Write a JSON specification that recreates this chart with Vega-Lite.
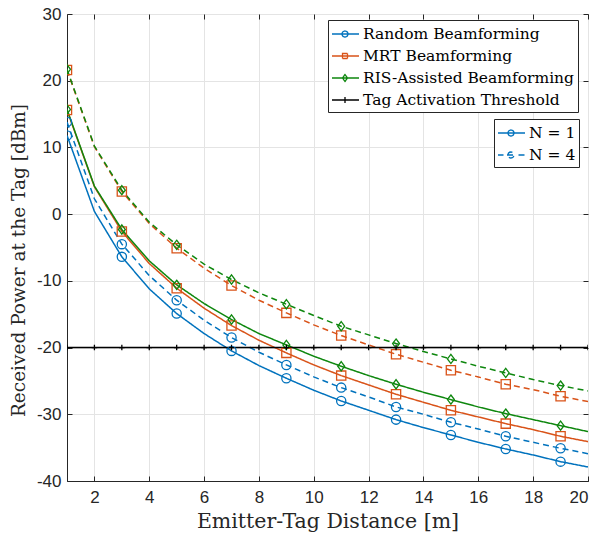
{
  "$schema": "https://vega.github.io/schema/vega-lite/v6.json",
  "width": 521,
  "height": 467,
  "autosize": {"type": "none"},
  "padding": {"left": 67, "top": 14, "right": 9, "bottom": 54},
  "background": "white",
  "config": {
    "view": {"stroke": "#262626", "strokeWidth": 1},
    "axis": {
      "labelFont": "Liberation Sans",
      "labelFontSize": 17,
      "labelColor": "#262626",
      "titleFont": "DejaVu Serif",
      "titleFontSize": 20,
      "titleFontWeight": "normal",
      "titleColor": "#262626",
      "domainColor": "#262626",
      "tickColor": "#262626",
      "gridColor": "#e4e4e4",
      "gridWidth": 1
    },
    "legend": {
      "labelFont": "DejaVu Serif",
      "labelFontSize": 15.5,
      "labelColor": "#000000",
      "labelLimit": 0,
      "strokeColor": "#262626",
      "fillColor": "white",
      "padding": 3,
      "symbolSize": 400,
      "labelOffset": 10,
      "rowPadding": 2,
      "cornerRadius": 0
    }
  },
  "data": {
    "values": [
      {"d": 1, "method": "Random Beamforming", "N": "1", "P": 11.8},
      {"d": 2, "method": "Random Beamforming", "N": "1", "P": 0.4},
      {"d": 3, "method": "Random Beamforming", "N": "1", "P": -6.4},
      {"d": 4, "method": "Random Beamforming", "N": "1", "P": -11.2},
      {"d": 5, "method": "Random Beamforming", "N": "1", "P": -14.9},
      {"d": 6, "method": "Random Beamforming", "N": "1", "P": -17.9},
      {"d": 7, "method": "Random Beamforming", "N": "1", "P": -20.5},
      {"d": 8, "method": "Random Beamforming", "N": "1", "P": -22.7},
      {"d": 9, "method": "Random Beamforming", "N": "1", "P": -24.6},
      {"d": 10, "method": "Random Beamforming", "N": "1", "P": -26.4},
      {"d": 11, "method": "Random Beamforming", "N": "1", "P": -28.0},
      {"d": 12, "method": "Random Beamforming", "N": "1", "P": -29.4},
      {"d": 13, "method": "Random Beamforming", "N": "1", "P": -30.8},
      {"d": 14, "method": "Random Beamforming", "N": "1", "P": -32.0},
      {"d": 15, "method": "Random Beamforming", "N": "1", "P": -33.1},
      {"d": 16, "method": "Random Beamforming", "N": "1", "P": -34.2},
      {"d": 17, "method": "Random Beamforming", "N": "1", "P": -35.2},
      {"d": 18, "method": "Random Beamforming", "N": "1", "P": -36.1},
      {"d": 19, "method": "Random Beamforming", "N": "1", "P": -37.1},
      {"d": 20, "method": "Random Beamforming", "N": "1", "P": -37.9},
      {"d": 1, "method": "Random Beamforming", "N": "4", "P": 13.8},
      {"d": 2, "method": "Random Beamforming", "N": "4", "P": 2.3},
      {"d": 3, "method": "Random Beamforming", "N": "4", "P": -4.5},
      {"d": 4, "method": "Random Beamforming", "N": "4", "P": -9.2},
      {"d": 5, "method": "Random Beamforming", "N": "4", "P": -12.9},
      {"d": 6, "method": "Random Beamforming", "N": "4", "P": -15.9},
      {"d": 7, "method": "Random Beamforming", "N": "4", "P": -18.5},
      {"d": 8, "method": "Random Beamforming", "N": "4", "P": -20.7},
      {"d": 9, "method": "Random Beamforming", "N": "4", "P": -22.6},
      {"d": 10, "method": "Random Beamforming", "N": "4", "P": -24.4},
      {"d": 11, "method": "Random Beamforming", "N": "4", "P": -26.0},
      {"d": 12, "method": "Random Beamforming", "N": "4", "P": -27.4},
      {"d": 13, "method": "Random Beamforming", "N": "4", "P": -28.9},
      {"d": 14, "method": "Random Beamforming", "N": "4", "P": -30.0},
      {"d": 15, "method": "Random Beamforming", "N": "4", "P": -31.2},
      {"d": 16, "method": "Random Beamforming", "N": "4", "P": -32.2},
      {"d": 17, "method": "Random Beamforming", "N": "4", "P": -33.3},
      {"d": 18, "method": "Random Beamforming", "N": "4", "P": -34.2},
      {"d": 19, "method": "Random Beamforming", "N": "4", "P": -35.1},
      {"d": 20, "method": "Random Beamforming", "N": "4", "P": -35.9},
      {"d": 1, "method": "MRT Beamforming", "N": "1", "P": 15.6},
      {"d": 2, "method": "MRT Beamforming", "N": "1", "P": 4.1},
      {"d": 3, "method": "MRT Beamforming", "N": "1", "P": -2.6},
      {"d": 4, "method": "MRT Beamforming", "N": "1", "P": -7.4},
      {"d": 5, "method": "MRT Beamforming", "N": "1", "P": -11.1},
      {"d": 6, "method": "MRT Beamforming", "N": "1", "P": -14.1},
      {"d": 7, "method": "MRT Beamforming", "N": "1", "P": -16.7},
      {"d": 8, "method": "MRT Beamforming", "N": "1", "P": -18.9},
      {"d": 9, "method": "MRT Beamforming", "N": "1", "P": -20.8},
      {"d": 10, "method": "MRT Beamforming", "N": "1", "P": -22.6},
      {"d": 11, "method": "MRT Beamforming", "N": "1", "P": -24.2},
      {"d": 12, "method": "MRT Beamforming", "N": "1", "P": -25.6},
      {"d": 13, "method": "MRT Beamforming", "N": "1", "P": -27.0},
      {"d": 14, "method": "MRT Beamforming", "N": "1", "P": -28.2},
      {"d": 15, "method": "MRT Beamforming", "N": "1", "P": -29.4},
      {"d": 16, "method": "MRT Beamforming", "N": "1", "P": -30.4},
      {"d": 17, "method": "MRT Beamforming", "N": "1", "P": -31.4},
      {"d": 18, "method": "MRT Beamforming", "N": "1", "P": -32.3},
      {"d": 19, "method": "MRT Beamforming", "N": "1", "P": -33.3},
      {"d": 20, "method": "MRT Beamforming", "N": "1", "P": -34.1},
      {"d": 1, "method": "MRT Beamforming", "N": "4", "P": 21.6},
      {"d": 2, "method": "MRT Beamforming", "N": "4", "P": 10.1},
      {"d": 3, "method": "MRT Beamforming", "N": "4", "P": 3.4},
      {"d": 4, "method": "MRT Beamforming", "N": "4", "P": -1.4},
      {"d": 5, "method": "MRT Beamforming", "N": "4", "P": -5.1},
      {"d": 6, "method": "MRT Beamforming", "N": "4", "P": -8.1},
      {"d": 7, "method": "MRT Beamforming", "N": "4", "P": -10.7},
      {"d": 8, "method": "MRT Beamforming", "N": "4", "P": -12.9},
      {"d": 9, "method": "MRT Beamforming", "N": "4", "P": -14.8},
      {"d": 10, "method": "MRT Beamforming", "N": "4", "P": -16.6},
      {"d": 11, "method": "MRT Beamforming", "N": "4", "P": -18.2},
      {"d": 12, "method": "MRT Beamforming", "N": "4", "P": -19.6},
      {"d": 13, "method": "MRT Beamforming", "N": "4", "P": -21.0},
      {"d": 14, "method": "MRT Beamforming", "N": "4", "P": -22.2},
      {"d": 15, "method": "MRT Beamforming", "N": "4", "P": -23.4},
      {"d": 16, "method": "MRT Beamforming", "N": "4", "P": -24.4},
      {"d": 17, "method": "MRT Beamforming", "N": "4", "P": -25.5},
      {"d": 18, "method": "MRT Beamforming", "N": "4", "P": -26.3},
      {"d": 19, "method": "MRT Beamforming", "N": "4", "P": -27.3},
      {"d": 20, "method": "MRT Beamforming", "N": "4", "P": -28.1},
      {"d": 1, "method": "RIS-Assisted Beamforming", "N": "1", "P": 15.7},
      {"d": 2, "method": "RIS-Assisted Beamforming", "N": "1", "P": 4.2},
      {"d": 3, "method": "RIS-Assisted Beamforming", "N": "1", "P": -2.3},
      {"d": 4, "method": "RIS-Assisted Beamforming", "N": "1", "P": -7.0},
      {"d": 5, "method": "RIS-Assisted Beamforming", "N": "1", "P": -10.6},
      {"d": 6, "method": "RIS-Assisted Beamforming", "N": "1", "P": -13.4},
      {"d": 7, "method": "RIS-Assisted Beamforming", "N": "1", "P": -15.8},
      {"d": 8, "method": "RIS-Assisted Beamforming", "N": "1", "P": -17.9},
      {"d": 9, "method": "RIS-Assisted Beamforming", "N": "1", "P": -19.6},
      {"d": 10, "method": "RIS-Assisted Beamforming", "N": "1", "P": -21.3},
      {"d": 11, "method": "RIS-Assisted Beamforming", "N": "1", "P": -22.8},
      {"d": 12, "method": "RIS-Assisted Beamforming", "N": "1", "P": -24.2},
      {"d": 13, "method": "RIS-Assisted Beamforming", "N": "1", "P": -25.5},
      {"d": 14, "method": "RIS-Assisted Beamforming", "N": "1", "P": -26.7},
      {"d": 15, "method": "RIS-Assisted Beamforming", "N": "1", "P": -27.8},
      {"d": 16, "method": "RIS-Assisted Beamforming", "N": "1", "P": -28.9},
      {"d": 17, "method": "RIS-Assisted Beamforming", "N": "1", "P": -29.9},
      {"d": 18, "method": "RIS-Assisted Beamforming", "N": "1", "P": -30.8},
      {"d": 19, "method": "RIS-Assisted Beamforming", "N": "1", "P": -31.7},
      {"d": 20, "method": "RIS-Assisted Beamforming", "N": "1", "P": -32.6},
      {"d": 1, "method": "RIS-Assisted Beamforming", "N": "4", "P": 21.7},
      {"d": 2, "method": "RIS-Assisted Beamforming", "N": "4", "P": 10.2},
      {"d": 3, "method": "RIS-Assisted Beamforming", "N": "4", "P": 3.6},
      {"d": 4, "method": "RIS-Assisted Beamforming", "N": "4", "P": -1.2},
      {"d": 5, "method": "RIS-Assisted Beamforming", "N": "4", "P": -4.6},
      {"d": 6, "method": "RIS-Assisted Beamforming", "N": "4", "P": -7.5},
      {"d": 7, "method": "RIS-Assisted Beamforming", "N": "4", "P": -9.8},
      {"d": 8, "method": "RIS-Assisted Beamforming", "N": "4", "P": -11.8},
      {"d": 9, "method": "RIS-Assisted Beamforming", "N": "4", "P": -13.5},
      {"d": 10, "method": "RIS-Assisted Beamforming", "N": "4", "P": -15.2},
      {"d": 11, "method": "RIS-Assisted Beamforming", "N": "4", "P": -16.8},
      {"d": 12, "method": "RIS-Assisted Beamforming", "N": "4", "P": -18.1},
      {"d": 13, "method": "RIS-Assisted Beamforming", "N": "4", "P": -19.4},
      {"d": 14, "method": "RIS-Assisted Beamforming", "N": "4", "P": -20.6},
      {"d": 15, "method": "RIS-Assisted Beamforming", "N": "4", "P": -21.7},
      {"d": 16, "method": "RIS-Assisted Beamforming", "N": "4", "P": -22.8},
      {"d": 17, "method": "RIS-Assisted Beamforming", "N": "4", "P": -23.8},
      {"d": 18, "method": "RIS-Assisted Beamforming", "N": "4", "P": -24.8},
      {"d": 19, "method": "RIS-Assisted Beamforming", "N": "4", "P": -25.7},
      {"d": 20, "method": "RIS-Assisted Beamforming", "N": "4", "P": -26.5},
      {"d": 1, "method": "Tag Activation Threshold", "N": "1", "P": -20},
      {"d": 2, "method": "Tag Activation Threshold", "N": "1", "P": -20},
      {"d": 3, "method": "Tag Activation Threshold", "N": "1", "P": -20},
      {"d": 4, "method": "Tag Activation Threshold", "N": "1", "P": -20},
      {"d": 5, "method": "Tag Activation Threshold", "N": "1", "P": -20},
      {"d": 6, "method": "Tag Activation Threshold", "N": "1", "P": -20},
      {"d": 7, "method": "Tag Activation Threshold", "N": "1", "P": -20},
      {"d": 8, "method": "Tag Activation Threshold", "N": "1", "P": -20},
      {"d": 9, "method": "Tag Activation Threshold", "N": "1", "P": -20},
      {"d": 10, "method": "Tag Activation Threshold", "N": "1", "P": -20},
      {"d": 11, "method": "Tag Activation Threshold", "N": "1", "P": -20},
      {"d": 12, "method": "Tag Activation Threshold", "N": "1", "P": -20},
      {"d": 13, "method": "Tag Activation Threshold", "N": "1", "P": -20},
      {"d": 14, "method": "Tag Activation Threshold", "N": "1", "P": -20},
      {"d": 15, "method": "Tag Activation Threshold", "N": "1", "P": -20},
      {"d": 16, "method": "Tag Activation Threshold", "N": "1", "P": -20},
      {"d": 17, "method": "Tag Activation Threshold", "N": "1", "P": -20},
      {"d": 18, "method": "Tag Activation Threshold", "N": "1", "P": -20},
      {"d": 19, "method": "Tag Activation Threshold", "N": "1", "P": -20},
      {"d": 20, "method": "Tag Activation Threshold", "N": "1", "P": -20}
    ]
  },
  "resolve": {
    "axis": {"x": "independent", "y": "independent"},
    "scale": {"shape": "independent"}
  },
  "layer": [
    {
      "mark": {"type": "line", "strokeWidth": 1.5, "clip": true},
      "encoding": {
        "x": {
          "field": "d", "type": "quantitative",
          "scale": {"domain": [1, 20], "nice": false, "zero": false},
          "axis": {
            "orient": "bottom",
            "values": [2, 4, 6, 8, 10, 12, 14, 16, 18, 20],
            "grid": true,
            "tickSize": -5,
            "labelPadding": 13,
            "title": "Emitter-Tag Distance [m]",
            "titleFontSize": 20.5,
            "titleY": 46,
            "titleBaseline": "alphabetic"
          }
        },
        "y": {
          "field": "P", "type": "quantitative",
          "scale": {"domain": [-40, 30], "nice": false, "zero": false},
          "axis": {
            "orient": "left",
            "values": [-40, -30, -20, -10, 0, 10, 20, 30],
            "labelExpr": "datum.value < 0 ? '-' + abs(datum.value) : '' + datum.value",
            "grid": true,
            "tickSize": -5,
            "labelPadding": 11,
            "title": "Received Power at the Tag [dBm]",
            "titleFontSize": 18.5,
            "titleX": -43,
            "titleY": 246,
            "titleBaseline": "alphabetic"
          }
        },
        "color": {
          "field": "method", "type": "nominal",
          "scale": {
            "domain": ["Random Beamforming", "MRT Beamforming", "RIS-Assisted Beamforming", "Tag Activation Threshold"],
            "range": ["#0072BD", "#D95319", "#0E870E", "#000000"]
          },
          "legend": {
            "title": null,
            "orient": "none",
            "legendX": 261,
            "legendY": 6,
            "encode": {
              "symbols": {
                "update": {
                  "shape": {"signal": "datum.value == 'Random Beamforming' ? 'M-1,0H1.7M0,0A0.3,0.3 0 1,1 0.6,0A0.3,0.3 0 1,1 0,0' : datum.value == 'MRT Beamforming' ? 'M-1,0H1.7M0.05,-0.25H0.55V0.25H0.05Z' : datum.value == 'RIS-Assisted Beamforming' ? 'M-1,0H1.7M0.3,-0.35L0.55,0L0.3,0.35L0.05,0Z' : 'M-1,0H1.7M0.3,-0.3V0.3'"},
                  "fill": {"value": "transparent"},
                  "strokeWidth": {"value": 1.3},
                  "strokeDash": {"value": [1, 0]}
                }
              }
            }
          }
        },
        "strokeDash": {
          "field": "N", "type": "nominal",
          "scale": {"domain": ["1", "4"], "range": [[1, 0], [6, 4]]},
          "legend": {
            "title": null,
            "orient": "none",
            "legendX": 427,
            "legendY": 105,
            "labelExpr": "'N = ' + datum.label",
            "encode": {
              "symbols": {
                "update": {
                  "shape": {"signal": "datum.value == '1' ? 'M-1,0H1.7M0,0A0.3,0.3 0 1,1 0.6,0A0.3,0.3 0 1,1 0,0' : 'M-1,0H-0.45M-0.1,0H0.7M1.05,0H1.7M0,0A0.3,0.3 0 1,1 0.6,0A0.3,0.3 0 1,1 0,0'"},
                  "stroke": {"value": "#0072BD"},
                  "fill": {"value": "transparent"},
                  "strokeWidth": {"value": 1.3},
                  "strokeDash": {"value": [1, 0]}
                }
              }
            }
          }
        }
      }
    },
    {
      "transform": [{"filter": "datum.method == 'Tag Activation Threshold' || datum.d % 2 == 1"}],
      "mark": {"type": "point", "filled": false, "strokeWidth": 1.3, "size": 85, "opacity": 1, "clip": true},
      "encoding": {
        "x": {
          "field": "d", "type": "quantitative",
          "scale": {"domain": [1, 20], "nice": false, "zero": false},
          "axis": {
            "orient": "top",
            "values": [2, 4, 6, 8, 10, 12, 14, 16, 18, 20],
            "grid": false, "labels": false, "domain": false,
            "tickSize": -5, "title": null
          }
        },
        "y": {
          "field": "P", "type": "quantitative",
          "scale": {"domain": [-40, 30], "nice": false, "zero": false},
          "axis": {
            "orient": "right",
            "values": [-40, -30, -20, -10, 0, 10, 20, 30],
            "grid": false, "labels": false, "domain": false,
            "tickSize": -5, "title": null
          }
        },
        "color": {"field": "method", "type": "nominal", "legend": null},
        "shape": {
          "field": "method", "type": "nominal",
          "scale": {
            "domain": ["Random Beamforming", "MRT Beamforming", "RIS-Assisted Beamforming", "Tag Activation Threshold"],
            "range": ["circle", "square", "M0,-1L0.75,0L0,1L-0.75,0Z", "M-0.6,0H0.6M0,-0.6V0.6"]
          },
          "legend": null
        }
      }
    }
  ]
}
